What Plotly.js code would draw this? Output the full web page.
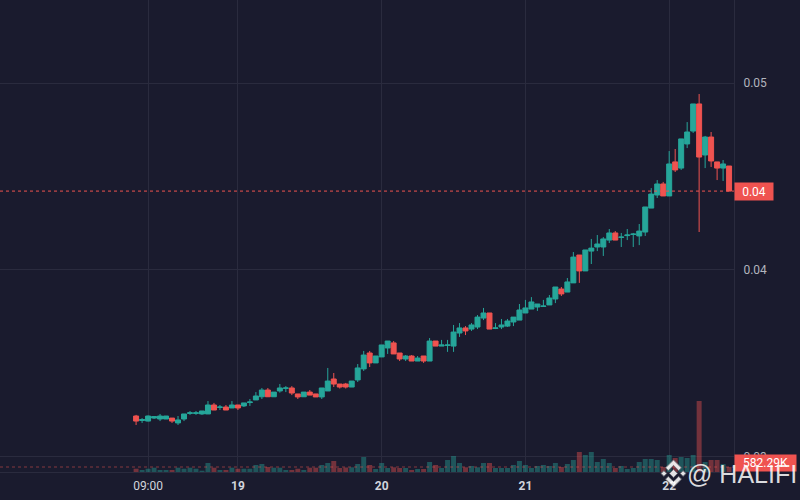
<!DOCTYPE html>
<html><head><meta charset="utf-8">
<script src="https://cdn.plot.ly/plotly-3.0.1.min.js"></script>
<style>html,body{margin:0;padding:0;background:#1a1b2e;}#chart{width:800px;height:500px;}</style>
</head><body><div id="chart"></div>
<script>
// ---- data ----
const startTime = Date.UTC(2024, 2, 18, 7, 0, 0); // first hourly candle
const openP = [.03219,.03195,.03192,.03208,.03203,.03203,.03208,.03182,.03203,.03233,
.03233,.03230,.03230,.03278,.03265,.03267,.03262,.03278,.03273,.03291,
.03305,.03322,.03358,.03322,.03353,.03367,.03369,.03337,.03322,.03347,
.03337,.03321,.03353,.03417,.03390,.03390,.03374,.03412,.03471,.03556,
.03503,.03535,.03583,.03610,.03556,.03524,.03540,.03513,.03540,.03513,
.03620,.03593,.03596,.03593,.03663,.03690,.03684,.03695,.03743,.03770,
.03687,.03695,.03700,.03722,.03732,.03770,.03791,.03802,.03805,.03813,
.03845,.03898,.03882,.03931,.04080,.03995,.04101,.04123,.04123,.04160,
.04198,.04174,.04184,.04190,.04182,.04203,.04331,.04401,.04460,.04396,
.04578,.04545,.04674,.04743,.04888,.04615,.04711,.04578,.04545,.04556];
const highP = [.03225,.03208,.03222,.03219,.03230,.03219,.03208,.03219,.03230,.03246,
.03246,.03246,.03299,.03289,.03278,.03278,.03299,.03278,.03289,.03310,
.03347,.03369,.03369,.03347,.03390,.03379,.03379,.03337,.03347,.03358,
.03337,.03369,.03476,.03449,.03390,.03396,.03406,.03497,.03567,.03567,
.03540,.03599,.03620,.03620,.03556,.03545,.03545,.03540,.03540,.03636,
.03620,.03626,.03626,.03706,.03716,.03700,.03716,.03759,.03797,.03770,
.03716,.03738,.03738,.03748,.03818,.03840,.03855,.03818,.03840,.03866,
.03909,.03909,.03957,.04096,.04080,.04107,.04166,.04187,.04176,.04219,
.04208,.04198,.04219,.04198,.04246,.04337,.04438,.04481,.04471,.04636,
.04647,.04701,.04791,.04888,.04941,.04717,.04738,.04578,.04588,.04556];
const lowP = [.03171,.03182,.03190,.03203,.03192,.03203,.03182,.03171,.03192,.03225,
.03225,.03225,.03230,.03251,.03251,.03251,.03262,.03251,.03267,.03273,
.03305,.03310,.03322,.03322,.03344,.03347,.03331,.03310,.03322,.03331,
.03321,.03310,.03353,.03374,.03366,.03366,.03374,.03401,.03460,.03481,
.03503,.03535,.03551,.03551,.03513,.03513,.03513,.03513,.03503,.03513,
.03593,.03593,.03562,.03562,.03642,.03652,.03674,.03684,.03732,.03684,
.03684,.03684,.03695,.03700,.03732,.03770,.03791,.03781,.03805,.03813,
.03823,.03861,.03882,.03931,.03931,.03995,.04032,.04101,.04075,.04144,
.04160,.04123,.04160,.04123,.04133,.04182,.04331,.04385,.04396,.04396,
.04524,.04535,.04652,.04733,.04203,.04545,.04551,.04481,.04476,.04422];
const closeP = [.03192,.03200,.03219,.03216,.03219,.03219,.03192,.03198,.03230,.03236,
.03236,.03246,.03278,.03251,.03267,.03251,.03278,.03262,.03289,.03294,
.03326,.03358,.03322,.03347,.03369,.03369,.03342,.03321,.03347,.03331,
.03321,.03369,.03406,.03390,.03374,.03374,.03406,.03476,.03545,.03503,
.03540,.03599,.03620,.03551,.03524,.03540,.03513,.03529,.03513,.03620,
.03593,.03599,.03599,.03668,.03690,.03674,.03706,.03748,.03770,.03684,
.03690,.03706,.03727,.03748,.03786,.03797,.03829,.03818,.03807,.03850,
.03909,.03872,.03936,.04069,.03995,.04107,.04117,.04139,.04166,.04198,
.04160,.04176,.04187,.04192,.04208,.04337,.04406,.04460,.04396,.04567,
.04535,.04701,.04738,.04888,.04604,.04711,.04583,.04545,.04567,.04422];
const volumeK = [384,233,384,501,233,233,233,501,384,501,
384,151,1049,501,233,233,501,384,384,384,
816,932,583,501,501,233,233,384,233,501,
501,816,1049,1282,466,524,548,932,1748,816,
350,1049,466,548,466,466,233,350,350,1165,
816,466,1398,1864,1049,548,699,548,1049,1049,
466,466,466,816,1282,816,466,699,816,699,
1049,583,932,1398,2330,1981,2330,1165,1515,1049,
466,699,350,466,1165,1515,1515,1398,583,1981,
1631,1748,1631,1981,8272,1165,1398,1398,932,582.29];
const timeTickVals = ['2024-03-18 09:00','2024-03-19 00:00','2024-03-20 00:00','2024-03-21 00:00','2024-03-22 00:00'];
const timeTickText = ['09:00','<b>19</b>','<b>20</b>','<b>21</b>','<b>22</b>'];
const priceTickVals = [0.03, 0.04, 0.05];
const priceTickText = ['0.03', '0.04', '0.05'];
const lastVolumeLabel = '582.29K';
const watermark = '@ HALIFI';

// ---- styling ----
const BG = '#1a1b2e', GRID = '#2a2b3e';
const UP = '#26a69a', DOWN = '#ef5350';
const HOUR = 3600000;
function fmt(ms){ return new Date(ms).toISOString().slice(0,16).replace('T',' '); }
const times = openP.map((_, i) => fmt(startTime + i * HOUR));
const volColors = openP.map((o, i) => closeP[i] >= o ? 'rgba(38,166,154,0.42)' : 'rgba(239,83,80,0.42)');
const last = closeP.length - 1;

const PW = 734, PH = 472;
function P(x, y){ return (x / PW).toFixed(5) + ',' + ((PH - y) / PH).toFixed(5); }
function poly(pts, cx, cy, s){ return 'M' + pts.map(p => P(cx + p[0]*s, cy + p[1]*s)).join('L') + 'Z'; }
const lcx = 673.5, lcy = 473.5, lscale = 1.13;
const logoParts = [
  [[0,-3.5],[3.5,0],[0,3.5],[-3.5,0]],
  [[-8.5,-2.5],[-6,0],[-8.5,2.5],[-11,0]],
  [[8.5,-2.5],[11,0],[8.5,2.5],[6,0]],
  [[0,-12],[7,-5],[4.6,-2.6],[0,-7.2],[-4.6,-2.6],[-7,-5]],
  [[0,12],[7,5],[4.6,2.6],[0,7.2],[-4.6,2.6],[-7,5]]
];
const logoShapes = logoParts.map(pts => ({
  type:'path', xref:'paper', yref:'paper', path: poly(pts, lcx, lcy, lscale),
  fillcolor:'rgba(255,255,255,0.88)', line:{color:'rgba(110,110,120,0.9)', width:1}, layer:'above'
}));

const traces = [
  { type:'bar', x: times, y: volumeK, yaxis:'y2', marker:{color: volColors, line:{width:0}}, hoverinfo:'skip' },
  { type:'candlestick', x: times, open: openP, high: highP, low: lowP, close: closeP,
    increasing:{line:{color:UP, width:1}, fillcolor:UP},
    decreasing:{line:{color:DOWN, width:1}, fillcolor:DOWN},
    whiskerwidth:0, hoverinfo:'skip' }
];

const fontFam = 'Roboto, "Liberation Sans", Arial, sans-serif';
const layout = {
  width:800, height:500,
  margin:{l:0, r:66, t:0, b:28},
  paper_bgcolor:BG, plot_bgcolor:BG,
  showlegend:false,
  boxgap:0.17, boxgroupgap:0, bargap:0.17,
  font:{family:fontFam},
  xaxis:{
    type:'date', range:[startTime - 22.72*HOUR, startTime + 99.82*HOUR],
    tickmode:'array', tickvals:timeTickVals, ticktext:timeTickText,
    showgrid:true, gridcolor:GRID, gridwidth:1, zeroline:false,
    showline:true, linecolor:GRID, linewidth:1,
    ticks:'', ticklabelstandoff:3,
    tickfont:{family:fontFam, size:12, color:'#d1d4dc'},
    rangeslider:{visible:false}, fixedrange:true
  },
  yaxis:{
    side:'right', range:[0.029196, 0.054439],
    tickmode:'array', tickvals:priceTickVals, ticktext:priceTickText,
    showgrid:true, gridcolor:GRID, gridwidth:1, zeroline:false,
    showline:true, linecolor:GRID, linewidth:1,
    ticks:'', ticklabelstandoff:6,
    tickfont:{family:fontFam, size:12, color:'#b2b5be'}, fixedrange:true
  },
  yaxis2:{ overlaying:'y', range:[0, 54968], visible:false, fixedrange:true },
  shapes:[
    { type:'line', xref:'paper', x0:0, x1:1, yref:'y', y0:closeP[last], y1:closeP[last],
      line:{color:DOWN, width:1, dash:'3px,3px'} },
    { type:'line', xref:'paper', x0:0, x1:1, yref:'y2', y0:volumeK[last], y1:volumeK[last],
      line:{color:'rgba(239,83,80,0.5)', width:1, dash:'3px,3px'} }
  ].concat(logoShapes),
  annotations:[
    { xref:'paper', x:1, xanchor:'left', yref:'y', y:closeP[last], yanchor:'middle',
      text: closeP[last].toFixed(2), showarrow:false, bgcolor:DOWN, borderpad:0,
      width:38, height:17, font:{family:fontFam, size:12, color:'#ffffff'} },
    { xref:'paper', x:1, xanchor:'left', yref:'paper', y:0, yanchor:'bottom',
      text: lastVolumeLabel, showarrow:false, bgcolor:DOWN, borderpad:0,
      width:61, height:16, font:{family:fontFam, size:12, color:'#ffffff'} },
    { xref:'paper', x:741.5/PW, xanchor:'center', yref:'paper', y:(PH-474)/PH, yanchor:'middle',
      text: watermark, showarrow:false,
      font:{family:'"Liberation Sans", Arial, sans-serif', size:25, color:'rgba(255,255,255,0.85)'} }
  ]
};
Plotly.newPlot('chart', traces, layout, {staticPlot:true, displayModeBar:false});
</script>
</body></html>
